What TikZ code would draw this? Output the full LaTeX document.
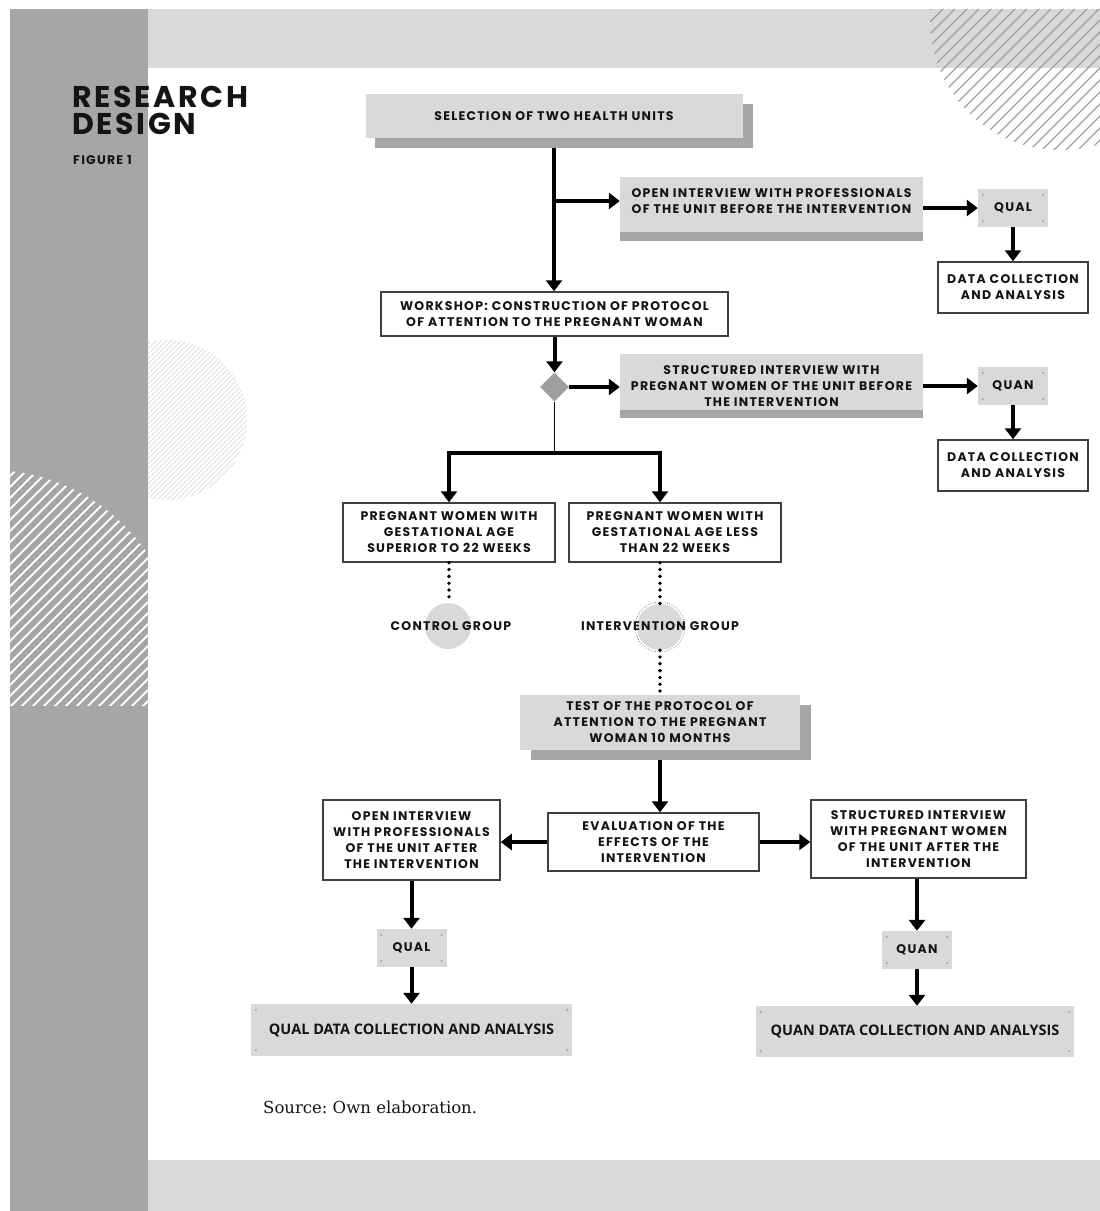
\documentclass[tikz,border=0pt]{standalone}
\usepackage{fontspec}
\setmainfont{Poppins}[LetterSpace=10]
\newfontfamily\titlefont{Poppins}[LetterSpace=9]
\newfontfamily\osans{Open Sans}
\newfontfamily\srcfont{DejaVu Serif}
\usetikzlibrary{arrows.meta,shapes.geometric}
\definecolor{lg}{HTML}{D9D9D9}
\definecolor{dg}{HTML}{A6A6A6}
\definecolor{txt}{HTML}{141414}
\pgfdeclarelayer{bg}\pgfdeclarelayer{shd}\pgfsetlayers{bg,shd,main}
\begin{document}
\begin{tikzpicture}[x=1pt,y=-1pt,
 lab/.style={font=\fontsize{12.5}{16}\selectfont\bfseries, text=txt, align=center, inner sep=0pt},
 sz/.style 2 args={minimum width=#1, minimum height=#2},
 graybox/.style={lab, fill=lg},
 wbox/.style={lab, draw=black!75, line width=1.5pt, fill=white},
 tagbox/.style={graybox, sz={70pt}{38pt}},
 bigtag/.style={graybox, font=\osans\fontsize{14.5}{16}\selectfont\bfseries},
 titl/.style={font=\titlefont\fontsize{30}{30}\selectfont\bfseries, text=txt, anchor=base west, inner sep=0pt, text height=22pt, text depth=0pt},
 arr/.style={line width=4pt, -{Triangle[width=16pt,length=11pt]}},
 dotl/.style={line width=3.8pt, line cap=round, dash pattern=on 0pt off 6.8pt},
]
\useasboundingbox (0,0) rectangle (1100,1211);
% ---------- background ----------
\begin{pgfonlayer}{bg}
\fill[white] (0,0) rectangle (1100,1211);
\fill[lg] (148,9) rectangle (1100,68);
\fill[lg] (148,1160) rectangle (1100,1211);
\begin{scope}
 \clip (148,300) rectangle (400,560);
 \clip (167,420) circle[radius=80pt];
 \foreach \k in {-240,-235,...,240}
  \draw[black!12,line width=0.8pt] (167+\k-140,560) -- (167+\k+140,280);
\end{scope}
\fill[dg] (10,9) rectangle (148,1211);
\begin{scope}
 \clip (10,460) rectangle (148,705);
 \clip (-10,660) circle[radius=190pt];
 \foreach \k in {-330,-319,...,330}
  \draw[white,line width=1.8pt] (60+\k-200,780) -- (60+\k+200,380);
\end{scope}
\begin{scope}
 \clip (900,9) rectangle (1100,170);
 \clip (1060,20) circle[radius=130pt];
 \foreach \k in {-300,-288,...,300}
  \draw[black!38,line width=1.3pt] (1000+\k-200,260) -- (1000+\k+200,-140);
\end{scope}
\end{pgfonlayer}
% ---------- title ----------
\node[titl] (t1) at (72,107) {RESEARCH};
\node[titl] (t2) at (72,134) {DESIGN};
\node[font=\fontsize{12.5}{14}\selectfont\bfseries, text=txt, anchor=base west, inner sep=0pt] (t3) at (73,164) {FIGURE 1};
% ---------- nodes ----------
\node[graybox, sz={377pt}{44pt}] (sel) at (554,116) {SELECTION OF TWO HEALTH UNITS};
\node[graybox, sz={303pt}{48pt}] (oi1) at (771.5,201) {OPEN INTERVIEW WITH PROFESSIONALS\\OF THE UNIT BEFORE THE INTERVENTION};
\node[tagbox] (qual1) at (1013,208) {QUAL};
\node[wbox, sz={150pt}{51pt}] (dc1) at (1013,287.5) {DATA COLLECTION\\AND ANALYSIS};
\node[wbox, sz={347pt}{44pt}] (ws) at (554.5,314) {WORKSHOP: CONSTRUCTION OF PROTOCOL\\OF ATTENTION TO THE PREGNANT WOMAN};
\node[diamond, fill=black!38, minimum size=29pt, inner sep=0pt, aspect=1] (dia) at (554.5,387) {};
\node[graybox, sz={303pt}{64pt}] (si1) at (771.5,386) {STRUCTURED INTERVIEW WITH\\PREGNANT WOMEN OF THE UNIT BEFORE\\THE INTERVENTION};
\node[tagbox] (quan1) at (1013,386) {QUAN};
\node[wbox, sz={150pt}{51pt}] (dc2) at (1013,465.5) {DATA COLLECTION\\AND ANALYSIS};
\coordinate (j) at (554.5,453);
\node[wbox, sz={212pt}{59pt}] (pw1) at (449,532.5) {PREGNANT WOMEN WITH\\GESTATIONAL AGE\\SUPERIOR TO 22 WEEKS};
\node[wbox, sz={212pt}{59pt}] (pw2) at (675,532.5) {PREGNANT WOMEN WITH\\GESTATIONAL AGE LESS\\THAN 22 WEEKS};
\node[circle, fill=lg, minimum size=46pt, inner sep=0pt] (cg) at (448,626) {};
\node[circle, fill=lg, minimum size=46pt, inner sep=0pt] (ig) at (660,627) {};
\draw[black!55, line width=0.7pt, dash pattern=on 0.8pt off 1.6pt] (ig.center) circle[radius=25pt];
\node[lab] (cglab) at (451,626) {CONTROL GROUP};
\node[lab] (iglab) at (660,626) {INTERVENTION GROUP};
\node[graybox, sz={280pt}{55pt}] (test) at (660,722.5) {TEST OF THE PROTOCOL OF\\ATTENTION TO THE PREGNANT\\WOMAN 10 MONTHS};
\node[wbox, sz={211pt}{58pt}] (eval) at (653.5,842) {EVALUATION OF THE\\EFFECTS OF THE\\INTERVENTION};
\node[wbox, sz={177pt}{80pt}] (oa) at (411.5,840) {OPEN INTERVIEW\\WITH PROFESSIONALS\\OF THE UNIT AFTER\\THE INTERVENTION};
\node[wbox, sz={215pt}{78pt}] (sa) at (918.5,839) {STRUCTURED INTERVIEW\\WITH PREGNANT WOMEN\\OF THE UNIT AFTER THE\\INTERVENTION};
\node[tagbox] (qual2) at (411.5,948) {QUAL};
\node[tagbox] (quan2) at (917,950) {QUAN};
\node[bigtag, sz={321pt}{52pt}] (qd) at (411.5,1030) {QUAL DATA COLLECTION AND ANALYSIS};
\node[bigtag, sz={318pt}{51pt}] (nd) at (915,1031.5) {QUAN DATA COLLECTION AND ANALYSIS};
\node[font=\srcfont\fontsize{16.5}{20}\selectfont\frenchspacing, text=txt, anchor=base west, inner sep=0pt] (src) at (263,1113) {Source: Own elaboration.};
% ---------- shadows and strips ----------
\begin{pgfonlayer}{shd}
\fill[dg] ([shift={(10,10)}]sel.north west) rectangle ([shift={(10,10)}]sel.south east);
\fill[dg] ([shift={(11,10)}]test.north west) rectangle ([shift={(11,10)}]test.south east);
\end{pgfonlayer}
\fill[lg] (oi1.south west) rectangle ([shift={(0,7)}]oi1.south east);
\fill[dg] ([shift={(0,7)}]oi1.south west) rectangle ([shift={(0,16)}]oi1.south east);
\fill[dg] ([shift={(0,-8)}]si1.south west) rectangle (si1.south east);
% corner dots
\foreach \n in {qual1,quan1,qual2,quan2,qd,nd}{
 \fill[black!35] ([shift={(5,6)}]\n.north west) circle[radius=1.2pt];
 \fill[black!35] ([shift={(-5,6)}]\n.north east) circle[radius=1.2pt];
 \fill[black!35] ([shift={(5,-6)}]\n.south west) circle[radius=1.2pt];
 \fill[black!35] ([shift={(-5,-6)}]\n.south east) circle[radius=1.2pt];
}
% ---------- connectors ----------
\draw[arr] ([shift={(0,10)}]sel.south) -- (sel.south |- ws.north);
\draw[arr] (sel.south |- oi1.west) -- (oi1.west);
\draw[arr] (qual1.west -| oi1.east) -- (qual1.west);
\draw[arr] (qual1.south) -- (dc1.north);
\draw[arr] (ws.south) -- (dia.north);
\draw[arr] (dia.east) -- (dia.east -| si1.west);
\draw[arr] (quan1.west -| si1.east) -- (quan1.west);
\draw[arr] (quan1.south) -- (dc2.north);
\draw[line width=1.6pt] (dia.south) -- (j);
\draw[arr] (j) -| (pw1.north);
\draw[arr] (j) -| (ig.center |- pw2.north);
\draw[dotl] (pw1.south) -- (pw1.south |- cg.north);
\draw[dotl] (ig.center |- pw2.south) -- (ig.north);
\draw[dotl] (ig.south) -- (ig.center |- test.north);
\draw[arr] ([shift={(0,10)}]test.south) -- (test.south |- eval.north);
\draw[arr] (eval.west) -- (eval.west -| oa.east);
\draw[arr] (eval.east) -- (eval.east -| sa.west);
\draw[arr] (oa.south) -- (qual2.north);
\draw[arr] (qual2.south) -- (qual2.south |- qd.north);
\draw[arr] (quan2.center |- sa.south) -- (quan2.north);
\draw[arr] (quan2.south) -- (quan2.south |- nd.north);
\end{tikzpicture}
\end{document}
